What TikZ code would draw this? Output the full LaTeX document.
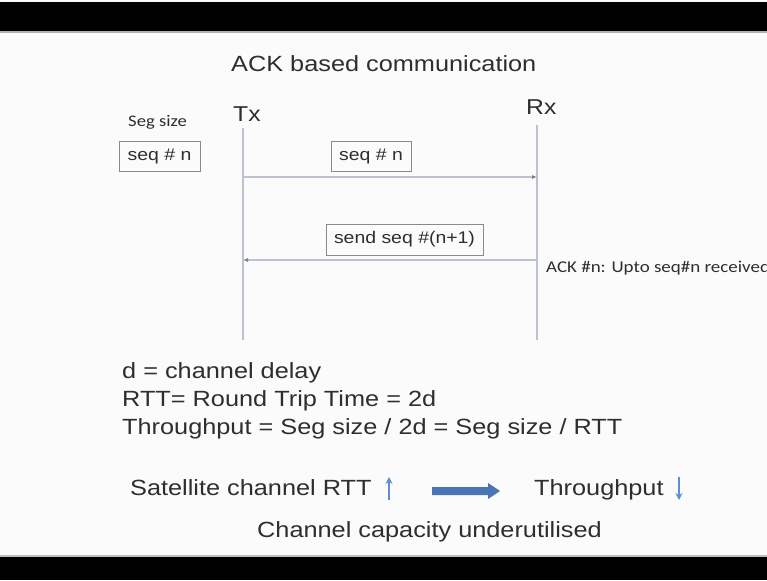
\documentclass[tikz,border=0pt]{standalone}
\usepackage{graphicx}
\usepackage{fontspec}
\setmainfont{Liberation Sans}
\newfontfamily\carlitofont{Carlito}
\usetikzlibrary{arrows.meta}
\definecolor{txtc}{HTML}{2E2E2E}
\definecolor{linec}{HTML}{BCC3CE}
\definecolor{boxc}{HTML}{8A8A8A}
\definecolor{bluec}{HTML}{4A74B4}
\definecolor{bluet}{HTML}{5B8FD0}
\newcommand\hstr[1]{\scalebox{1.15}[1]{#1}}
\newcommand\bigtxt{\fontsize{22}{26}\selectfont}
\newcommand\boxtxt{\fontsize{16.9}{20}\selectfont}
\begin{document}
\begin{tikzpicture}[x=1pt,y=-1pt,
  lbl/.style={anchor=base west,inner sep=0,text=txtc},
  seqbox/.style={draw=boxc,line width=0.9pt,inner sep=0,text=txtc,font=\boxtxt},
  life/.style={draw=linec,line width=1.3pt},
  msg/.style={draw=linec,line width=1.3pt,-{Latex[length=5pt,width=4pt,color=gray]}},
  updown/.style={draw=bluet,line width=1.3pt,-{Stealth[length=7pt,width=7pt]}}]
\useasboundingbox (0,0) rectangle (767,580);
\fill[white!97!gray] (0,0) rectangle (767,580);
\fill[black] (0,2) rectangle (767,31);
\fill[gray!60] (0,31) rectangle (767,33);
\fill[black] (0,557) rectangle (767,580);
\fill[gray!50] (0,555) rectangle (767,557);
% title
\node[lbl] (title) at (231,72) {\bigtxt\hstr{ACK based communication}};
% Tx Rx
\node[lbl] (tx) at (233,122) {\fontsize{21.5}{25}\selectfont\hstr{Tx}};
\node[lbl] (rx) at (526,115) {\fontsize{21.5}{25}\selectfont\hstr{Rx}};
\coordinate (txtop) at (243,128);
\coordinate (txbot) at (243,340);
\coordinate (rxtop) at (537,125);
\coordinate (rxbot) at (537,340);
\draw[life] (txtop) -- (txbot);
\draw[life] (rxtop) -- (rxbot);
% seg size
\node[lbl] (segsize) at (128,127) {\carlitofont\fontsize{16.2}{19}\selectfont\hstr{Seg size}};
\node[seqbox,minimum width=81pt,minimum height=30pt] (box1) at (159.5,156) {\hstr{seq \# n}};
\node[seqbox,minimum width=80pt,minimum height=30pt] (box2) at (371,156) {\hstr{seq \# n}};
\node[seqbox,minimum width=157pt,minimum height=31pt] (box3) at (404.5,239.5) {\hstr{send seq \#(n+1)}};
% messages
\coordinate (m1a) at (243,177);
\coordinate (m1b) at (537,177);
\coordinate (m2a) at (537,260);
\coordinate (m2b) at (243,260);
\draw[msg] (m1a) -- (m1b);
\draw[msg] (m2a) -- (m2b);
\node[lbl] (ack) at (546,272) {\carlitofont\fontsize{16.5}{19}\selectfont\hstr{ACK \#n: Upto seq\#n received}};
% formulas
\node[lbl] (l1) at (122,378) {\bigtxt\hstr{d = channel delay}};
\node[lbl] (l2) at (122,406) {\bigtxt\hstr{RTT= Round Trip Time = 2d}};
\node[lbl] (l3) at (122,434) {\bigtxt\hstr{Throughput = Seg size / 2d = Seg size / RTT}};
% bottom
\node[lbl] (sat) at (130,495) {\bigtxt\hstr{Satellite channel RTT}};
\coordinate (upa) at (389,500);
\coordinate (upb) at (389,477);
\draw[updown] (upa) -- (upb);
\fill[bluec] (432,487) -- (488,487) -- (488,483) -- (500,491) -- (488,499) -- (488,495) -- (432,495) -- cycle;
\node[lbl] (thr) at (534,495) {\bigtxt\hstr{Throughput}};
\coordinate (dna) at (679,477);
\coordinate (dnb) at (679,500);
\draw[updown] (dna) -- (dnb);
\node[lbl] (cap) at (257,537) {\bigtxt\hstr{Channel capacity underutilised}};
\end{tikzpicture}
\end{document}
